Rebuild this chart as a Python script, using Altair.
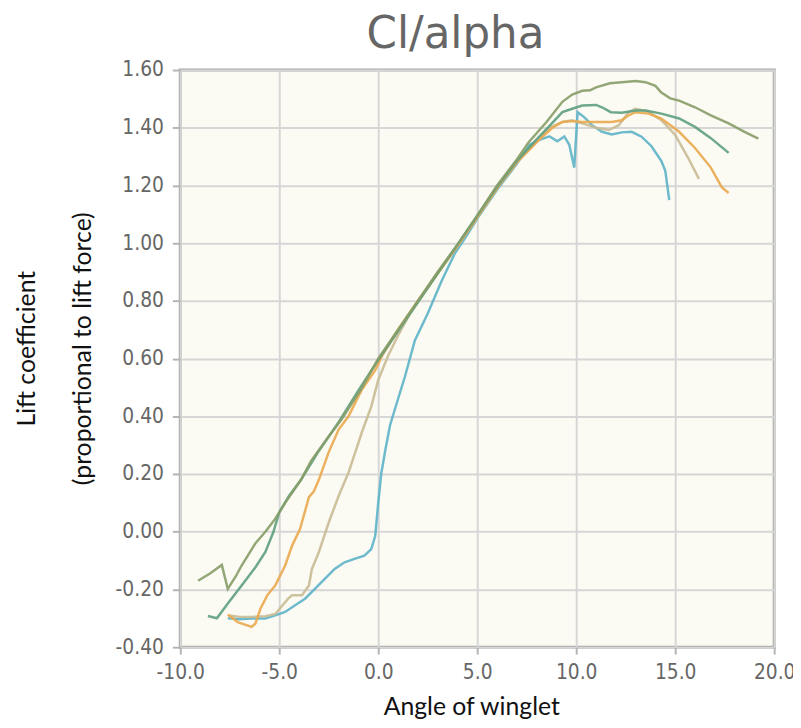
import altair as alt
import pandas as pd

# Series (angle of winglet in degrees, lift coefficient)
olive_x = [-9.1, -8.5, -7.9, -7.6, -7.2, -6.9, -6.2, -5.7, -5.2, -4.7, -3.9, -3.4, -2.5, -1.85, -0.85,
           0, 1, 2, 3, 4, 5, 6, 7, 7.6, 8.5, 9.3, 9.8, 10.3, 10.7, 11.0, 11.7, 12.3, 13.0, 13.5, 14.0,
           14.3, 14.75, 15.2, 16.0, 16.8, 17.7, 18.5, 19.2]
olive_y = [-0.17, -0.145, -0.115, -0.198, -0.155, -0.117, -0.04, 0.0, 0.045, 0.10, 0.18, 0.245, 0.33,
           0.39, 0.495, 0.60, 0.70, 0.80, 0.90, 0.995, 1.095, 1.20, 1.29, 1.35, 1.42, 1.49, 1.515, 1.528,
           1.53, 1.54, 1.554, 1.558, 1.562, 1.558, 1.545, 1.522, 1.502, 1.494, 1.471, 1.443, 1.415,
           1.386, 1.362]

teal_x = [-8.6, -8.15, -7.55, -6.9, -6.2, -5.7, -5.3, -5.0, -4.5, -3.9, -3, -2, -1, 0, 1, 2, 3, 4, 5,
          6, 7, 8, 8.7, 9.3, 9.8, 10.3, 11.0, 11.3, 11.75, 12.3, 13.0, 13.5, 14.3, 15.2, 16.0, 16.8, 17.7]
teal_y = [-0.292, -0.30, -0.244, -0.186, -0.123, -0.07, -0.002, 0.067, 0.125, 0.18, 0.28, 0.38, 0.49,
          0.595, 0.695, 0.795, 0.895, 0.995, 1.095, 1.195, 1.285, 1.36, 1.41, 1.454, 1.466, 1.477,
          1.479, 1.471, 1.454, 1.452, 1.46, 1.46, 1.449, 1.432, 1.403, 1.364, 1.313]

orange_x = [-7.6, -7.1, -6.4, -6.2, -5.95, -5.6, -5.2, -4.7, -4.35, -3.95, -3.5, -3.25, -3.0, -2.5,
            -2.0, -1.5, -0.85, -0.15, 0.2, 1, 2, 3, 4, 5, 6, 7, 8, 8.8, 9.3, 9.8, 10.3, 11.0, 11.8,
            12.3, 12.65, 13.0, 13.65, 14.3, 15.2, 16.0, 16.8, 17.35, 17.7]
orange_y = [-0.287, -0.313, -0.33, -0.318, -0.267, -0.22, -0.186, -0.117, -0.048, 0.009, 0.12, 0.14,
            0.18, 0.276, 0.354, 0.40, 0.49, 0.56, 0.61, 0.70, 0.80, 0.895, 0.99, 1.09, 1.19, 1.28,
            1.35, 1.40, 1.42, 1.423, 1.42, 1.42, 1.42, 1.426, 1.443, 1.454, 1.449, 1.432, 1.386,
            1.33, 1.262, 1.194, 1.174]

tan_x = [-7.5, -7.0, -6.4, -5.7, -5.2, -4.55, -4.35, -3.85, -3.5, -3.35, -3.0, -2.5, -2.0, -1.5, -0.8,
         -0.35, 0, 0.5, 1.0, 1.6, 2, 3, 4, 5, 6, 7, 8, 8.65, 9.3, 9.8, 10.3, 11.0, 11.65, 12.15, 12.65,
         13.0, 13.65, 14.3, 15.0, 15.65, 16.2]
tan_y = [-0.29, -0.295, -0.295, -0.293, -0.285, -0.232, -0.22, -0.22, -0.186, -0.129, -0.071, 0.032,
         0.124, 0.205, 0.35, 0.434, 0.526, 0.61, 0.68, 0.755, 0.795, 0.895, 0.99, 1.09, 1.19, 1.28,
         1.35, 1.40, 1.42, 1.426, 1.415, 1.40, 1.392, 1.409, 1.454, 1.466, 1.456, 1.426, 1.375,
         1.296, 1.223]

blue_x = [-7.6, -7.05, -6.4, -5.7, -5.2, -4.7, -4.2, -3.7, -3.2, -2.7, -2.2, -1.7, -1.2, -0.7, -0.35,
          -0.15, 0.0, 0.15, 0.35, 0.6, 1.0, 1.35, 1.85, 2.5, 3.2, 3.85, 4.5, 5.0, 6.0, 7.0, 7.65, 8.15,
          8.65, 9.05, 9.4, 9.65, 9.9, 10.07, 10.4, 10.8, 11.3, 11.8, 12.3, 12.8, 13.3, 13.8, 14.3,
          14.5, 14.7]
blue_y = [-0.30, -0.303, -0.301, -0.301, -0.29, -0.278, -0.255, -0.232, -0.198, -0.163, -0.129,
          -0.106, -0.094, -0.083, -0.06, -0.014, 0.10, 0.20, 0.28, 0.37, 0.46, 0.538, 0.663, 0.756,
          0.869, 0.962, 1.03, 1.085, 1.185, 1.275, 1.341, 1.358, 1.37, 1.353, 1.37, 1.341, 1.262,
          1.454, 1.437, 1.409, 1.386, 1.377, 1.384, 1.386, 1.369, 1.336, 1.285, 1.251, 1.149]

series_names = ["Blue", "Tan", "Orange", "Teal", "Olive"]
series_colors = ["#5db3c9", "#c8bb94", "#eaa94f", "#5e9f80", "#879d68"]

x_ticks = [-10, -5, 0, 5, 10, 15, 20]
y_ticks = [-0.4, -0.2, 0.0, 0.2, 0.4, 0.6, 0.8, 1.0, 1.2, 1.4, 1.6]

rows = []
for name, xs, ys in [("Blue", blue_x, blue_y), ("Tan", tan_x, tan_y), ("Orange", orange_x, orange_y),
                     ("Teal", teal_x, teal_y), ("Olive", olive_x, olive_y)]:
    for i, (a, b) in enumerate(zip(xs, ys)):
        rows.append({"series": name, "alpha": a, "cl": b, "i": i})
df = pd.DataFrame(rows)

label_font = "DejaVu Sans Condensed, DejaVu Sans, sans-serif"
title_font = "Lato, Calibri, sans-serif"

chart = alt.Chart(df).mark_line(strokeWidth=2.5, strokeOpacity=0.9).encode(
    x=alt.X("alpha:Q",
            scale=alt.Scale(domain=[-10, 20], nice=False, zero=False),
            axis=alt.Axis(values=x_ticks, title="Angle of winglet",
                          labelExpr="replace(format(datum.value, '.1f'), '\u2212', '-')",
                          domain=False, grid=True, gridColor="#d6d6d6", gridWidth=2,
                          tickColor="#b5b5b5", tickSize=7, tickWidth=2,
                          labelColor="#666666", labelFont=label_font, labelFontSize=21,
                          labelPadding=8, labelFlush=False,
                          titleFont=title_font, titleFontSize=25, titleFontWeight="normal",
                          titleColor="#111111", titlePadding=12, titleX=294)),
    y=alt.Y("cl:Q",
            scale=alt.Scale(domain=[-0.4, 1.6], nice=False, zero=False),
            axis=alt.Axis(values=y_ticks,
                          title=["Lift coefficient", "(proportional to lift force)"],
                          labelExpr="replace(format(datum.value, '.2f'), '\u2212', '-')",
                          domain=False, grid=True, gridColor="#d6d6d6", gridWidth=2,
                          tickColor="#b5b5b5", tickSize=8, tickWidth=2,
                          labelColor="#666666", labelFont=label_font, labelFontSize=21,
                          labelPadding=9, labelFlush=False,
                          titleFont=title_font, titleFontSize=25, titleFontWeight="normal",
                          titleColor="#111111", titleAngle=270, titleAlign="center",
                          titleBaseline="alphabetic", titleLineHeight=56,
                          titleX=-147, titleY=281)),
    color=alt.Color("series:N", scale=alt.Scale(domain=series_names, range=series_colors),
                    legend=None),
    order=alt.Order("i:Q"),
).properties(
    width=600,
    height=583,
    title=alt.TitleParams("Cl/alpha", font="DejaVu Sans", fontSize=44, fontWeight="normal",
                          color="#666666", anchor="middle", frame="group", dx=-22,
                          offset=2),
    autosize="none",
    padding={"left": 174, "top": 59, "right": 19, "bottom": 80},
).configure_view(
    fill="#fcfbf3", stroke="#a8a8a8", strokeWidth=3
)

chart.save("out.html", embed_options={"renderer": "svg", "actions": False})
